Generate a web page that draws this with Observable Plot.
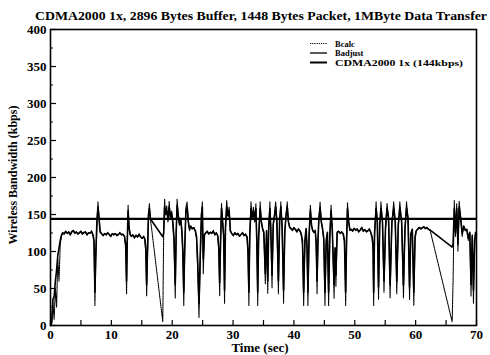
<!DOCTYPE html>
<html><head><meta charset="utf-8">
<script src="https://cdn.jsdelivr.net/npm/d3@7"></script>
<script src="https://cdn.jsdelivr.net/npm/@observablehq/plot@0.6"></script>
<style>
body{margin:0;background:#fff}
#chart{width:490px;height:355px}
</style>
</head><body><div id="chart"></div>
<script>
const title = "CDMA2000 1x, 2896 Bytes Buffer, 1448 Bytes Packet, 1MByte Data Transfer";
const xLabel = "Time (sec)";
const yLabel = "Wireless Bandwidth (kbps)";
const seriesNames = ["Bcalc", "Badjust", "CDMA2000 1x (144kbps)"];
const capacity = 144;
const xTicks = [0, 10, 20, 30, 40, 50, 60, 70];
const xMinorTicks = [0, 5, 10, 15, 20, 25, 30, 35, 40, 45, 50, 55, 60, 65, 70];
const yTicks = [0, 50, 100, 150, 200, 250, 300, 350, 400];
const yMinorTicks = [25, 75, 125, 175, 225, 275, 325, 375];

const time = [
  0,0.2,0.4,0.6,0.8,1.0,1.2,1.4,1.6,1.8,
  2.0,2.25,2.5,2.75,3.0,3.25,3.5,3.75,4.0,4.25,4.5,4.75,5.0,5.25,5.5,5.75,6.0,6.25,6.5,6.75,7.0,
  7.15,7.3,7.45,7.65,7.8,7.95,8.15,
  8.4,8.65,8.9,9.15,9.4,9.65,9.9,10.15,10.4,10.65,10.9,11.15,11.4,11.65,11.9,12.15,
  12.35,12.5,12.6,12.75,12.9,13.1,
  13.3,13.55,13.8,14.05,14.3,14.55,14.8,15.05,15.3,15.5,
  15.65,15.8,15.95,16.1,16.25,16.4,16.6,
  18.45,
  18.6,18.75,18.9,19.1,19.3,19.5,19.7,19.9,20.1,20.3,20.5,20.65,20.8,21.0,21.2,21.4,21.6,21.75,21.9,22.05,22.25,22.45,22.65,22.85,23.05,23.3,23.55,23.8,
  24.0,24.2,24.4,24.6,24.8,24.95,25.1,25.3,
  25.5,25.75,26.0,26.25,26.5,26.75,27.0,27.25,27.5,
  27.65,27.8,27.95,28.1,28.25,28.45,28.6,28.75,28.95,29.15,29.35,29.55,
  29.8,30.05,30.3,30.55,30.8,31.05,31.3,31.55,31.8,32.05,32.3,
  32.45,32.6,32.75,32.95,33.15,33.35,33.55,33.75,33.9,34.05,34.2,34.45,34.65,34.85,35.05,35.3,35.5,35.7,35.85,
  36.05,36.2,36.4,36.6,36.8,37.0,37.2,37.45,37.65,37.85,38.05,38.3,38.5,38.7,38.9,39.1,39.3,
  39.5,39.75,40.0,40.25,40.5,40.75,41.0,41.2,
  41.4,41.6,41.8,42.0,42.15,42.3,42.5,42.7,42.9,43.1,43.3,43.5,43.65,43.8,43.95,44.1,44.3,44.5,44.7,44.9,45.1,45.3,45.5,45.7,45.9,46.1,46.3,46.6,46.75,46.9,47.1,
  47.35,47.6,47.85,48.1,48.3,48.5,48.65,48.8,49.0,49.2,
  49.4,49.65,49.9,50.15,50.4,50.65,50.9,51.15,51.4,51.65,51.9,52.15,52.4,52.65,52.85,
  53.0,53.1,53.25,53.5,53.7,53.9,54.1,54.3,54.55,54.8,55.05,55.3,55.55,55.8,56.1,56.4,56.65,56.9,57.15,57.4,57.7,58.0,58.25,58.5,58.75,59.0,59.2,59.45,59.7,59.9,
  60.1,60.35,60.6,60.85,61.1,61.35,61.6,61.85,62.1,62.4,
  66.0,
  66.15,66.35,66.55,66.75,66.95,67.15,67.4,67.65,67.9,68.15,68.4,68.65,68.9,69.1,69.3,69.5,69.7,69.85,70.0
];
const bcalc = [
  0,2,30,8,50,25,90,60,110,120,
  126,123,128,124,127,122,126,129,124,127,123,126,128,123,125,127,122,126,124,128,121,
  110,27,90,140,167,150,128,
  124,121,125,122,126,123,120,124,122,125,121,123,126,122,124,120,
  105,43,100,163,135,122,
  120,123,118,122,119,124,120,117,121,115,
  100,40,95,150,165,145,132,
  5,
  130,171,150,162,140,168,145,155,138,110,37,120,171,150,135,145,125,90,27,95,160,167,140,128,135,130,133,127,
  118,70,11,80,150,167,70,122,
  125,128,123,126,124,129,122,126,120,
  100,40,110,165,145,120,30,130,169,150,160,128,
  124,121,126,122,125,120,123,126,121,124,118,
  95,27,120,167,145,160,140,165,110,27,115,167,140,130,125,56,128,43,130,
  167,130,51,135,150,167,140,43,140,167,135,30,125,150,167,140,132,
  131,128,133,129,126,131,127,122,
  110,27,110,130,100,27,120,163,135,128,125,129,110,43,110,145,167,140,130,115,27,110,125,27,120,163,130,37,100,53,125,
  128,124,127,123,112,27,110,166,140,128,
  130,127,132,128,131,126,129,133,127,130,126,128,131,124,118,
  100,27,120,167,140,35,135,167,140,45,130,165,145,37,140,167,140,43,135,167,140,37,130,167,145,35,120,130,27,115,
  128,131,133,130,132,134,131,133,130,128,
  5,
  60,169,120,165,100,168,145,120,135,128,130,115,125,40,120,30,110,125,122
];
const badjust = [
  0,5,35,40,60,75,95,105,115,122,
  125,124,127,125,126,123,127,128,125,126,124,125,127,124,126,126,123,125,125,127,122,
  115,45,100,145,160,148,126,
  124,122,124,123,125,123,121,124,123,124,122,123,125,123,123,121,
  110,60,110,155,132,123,
  121,122,119,122,120,123,120,118,120,117,
  105,55,105,150,158,146,142,
  120,
  125,160,150,155,143,160,146,152,140,118,55,125,162,148,137,143,127,100,45,105,155,160,140,130,134,131,132,128,
  120,85,30,95,150,160,90,123,
  125,127,124,126,125,127,123,125,121,
  105,58,115,158,143,122,48,132,160,148,155,128,
  124,122,125,123,124,121,123,125,122,123,120,
  102,45,125,158,145,155,142,158,115,45,120,158,140,131,126,70,128,60,132,
  158,130,68,137,148,160,140,60,142,160,136,48,127,148,160,140,133,
  131,129,132,130,127,130,128,124,
  115,45,115,131,108,45,125,155,135,128,126,128,113,60,115,145,158,140,131,118,45,115,126,45,122,155,130,55,105,68,126,
  127,125,126,124,115,45,115,158,140,129,
  130,128,131,129,130,127,129,132,128,129,127,128,130,125,120,
  108,45,125,158,140,52,137,158,140,60,132,158,145,55,140,158,140,60,136,158,140,55,132,158,145,52,124,130,45,120,
  128,130,132,131,132,133,131,132,130,129,
  106,
  110,158,125,158,110,160,145,125,134,129,130,118,126,55,122,48,115,126,123
];

const bcalcRows = time.map((t, i) => ({t, v: bcalc[i]}));
const badjRows = time.map((t, i) => ({t, v: badjust[i]}));
const serif = "'Liberation Serif', 'Times New Roman', serif";

const svgNode = Plot.plot({
  width: 490, height: 355,
  marginTop: 29, marginBottom: 30, marginLeft: 50, marginRight: 14,
  style: {fontFamily: serif, fontSize: "13px", fontWeight: "bold", color: "#000", background: "#fff"},
  x: {domain: [0, 70]},
  y: {domain: [0, 400]},
  marks: [
    Plot.line(bcalcRows, {x: "t", y: "v", stroke: "#000", strokeWidth: 1.1, strokeDasharray: "1.2,1"}),
    Plot.line(badjRows, {x: "t", y: "v", stroke: "#000", strokeWidth: 1.6}),
    Plot.ruleY([capacity], {stroke: "#000", strokeWidth: 2.2}),
    Plot.frame({stroke: "#000", strokeWidth: 1.6}),
    Plot.axisY({ticks: yTicks, tickSize: 6, dx: 6, fill: "none", label: null, strokeWidth: 1.2}),
    Plot.axisY({ticks: yMinorTicks, tickSize: 3, dx: 3, fill: "none", label: null}),
    Plot.axisY({ticks: yTicks, tickSize: 0, tickPadding: 4, label: null, fontSize: 13}),
    Plot.axisX({ticks: xMinorTicks, tickSize: 5, dy: -5, fill: "none", label: null, strokeWidth: 1.2}),
    Plot.axisX({ticks: xTicks, tickSize: 0, tickPadding: 4, label: null, fontSize: 13})
  ]
});
document.getElementById("chart").appendChild(svgNode);

const svg = d3.select(svgNode);
svg.append("text")
  .attr("x", 261).attr("y", 20).attr("text-anchor", "middle")
  .attr("textLength", 452).attr("lengthAdjust", "spacingAndGlyphs")
  .style("font", `bold 12px ${serif}`).attr("fill", "#000").text(title);
svg.append("text")
  .attr("transform", "translate(17,175) rotate(-90)").attr("text-anchor", "middle")
  .style("font", `bold 12px ${serif}`).attr("fill", "#000").text(yLabel);
svg.append("text")
  .attr("x", 260).attr("y", 352).attr("text-anchor", "middle")
  .style("font", `bold 13px ${serif}`).attr("fill", "#000").text(xLabel);

const legendStyles = [
  {dash: "1.2,1", width: 1, len: null},
  {dash: null, width: 1.3, len: null},
  {dash: null, width: 2, len: 128}
];
const lg = svg.append("g").attr("text-anchor", "start");
seriesNames.forEach((name, i) => {
  const y = 43.5 + i * 9.5;
  lg.append("line").attr("x1", 310).attr("x2", 327).attr("y1", y).attr("y2", y)
    .attr("stroke", "#000").attr("stroke-width", legendStyles[i].width)
    .attr("stroke-dasharray", legendStyles[i].dash);
  const tx = lg.append("text").attr("x", 335).attr("y", y + 3).attr("text-anchor", "start")
    .style("font", `bold 8.5px ${serif}`).attr("fill", "#000").text(name);
  if (legendStyles[i].len) tx.attr("textLength", legendStyles[i].len).attr("lengthAdjust", "spacingAndGlyphs");
});
</script>
</body></html>
